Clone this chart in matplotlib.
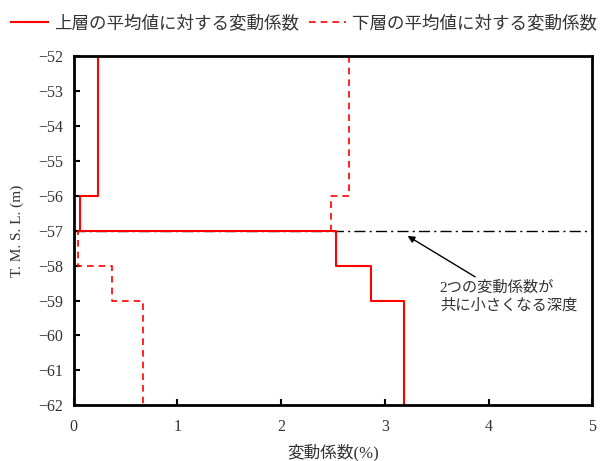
import numpy as np
import matplotlib.pyplot as plt

plt.rcParams['font.family'] = ['Liberation Serif', 'Noto Sans CJK JP']

# depth boundaries (T.M.S.L., m)
depth = [-52, -56, -57, -58, -59, -62]
# coefficient of variation (%) per layer, top to bottom
cv_upper = [0.23, 0.06, 2.53, 2.87, 3.18]
cv_lower = [2.65, 2.48, 0.04, 0.37, 0.67]
target_depth = -57


def step_xy(vals, d):
    xs, ys = [], []
    for i, v in enumerate(vals):
        xs += [v, v]
        ys += [d[i], d[i + 1]]
    return xs, ys


fig, ax = plt.subplots(figsize=(6, 4.61), dpi=100)
fig.subplots_adjust(left=0.123, right=0.987, top=0.878, bottom=0.121)

ax.axhline(target_depth, color='black', lw=1.0, ls=(0, (8, 3, 1.5, 3)))

xs, ys = step_xy(cv_upper, depth)
ax.plot(xs, ys, color='red', lw=1.5, label='上層の平均値に対する変動係数')
xs, ys = step_xy(cv_lower, depth)
ax.plot(xs, ys, color='red', lw=1.2, ls=(0, (4, 3)), label='下層の平均値に対する変動係数')

ax.annotate('2つの変動係数が\n共に小さくなる深度', xy=(3.22, -57.15), xytext=(3.53, -58.9),
            fontsize=11, va='center', ha='left', linespacing=1.3,
            arrowprops=dict(arrowstyle='-|>', color='black', lw=1.0, shrinkA=2, shrinkB=0,
                            mutation_scale=10),
            color='#333333')

ax.set_xlim(0, 5)
ax.set_ylim(-62, -52)
ax.set_xticks(np.arange(0, 6, 1))
ax.set_yticks(np.arange(-62, -51, 1))
ax.tick_params(direction='in', width=1.5, length=4, labelsize=11.5, colors='black')
ax.tick_params(axis='both', labelcolor='#333333')
ax.tick_params(axis='x', pad=10)
ax.tick_params(axis='y', pad=8)
for s in ax.spines.values():
    s.set_linewidth(2)

ax.set_xlabel('変動係数(%)', fontsize=12, color='#333333', labelpad=6)
ax.set_ylabel('T. M. S. L. (m)', fontsize=11, color='#333333', labelpad=10)

ax.legend(loc='lower center', bbox_to_anchor=(0.444, 1.025), ncol=2, frameon=False,
          fontsize=12.6, handlelength=2.1, columnspacing=0.6, handletextpad=0.35,
          labelcolor='#333333')

fig.savefig('out.png')
